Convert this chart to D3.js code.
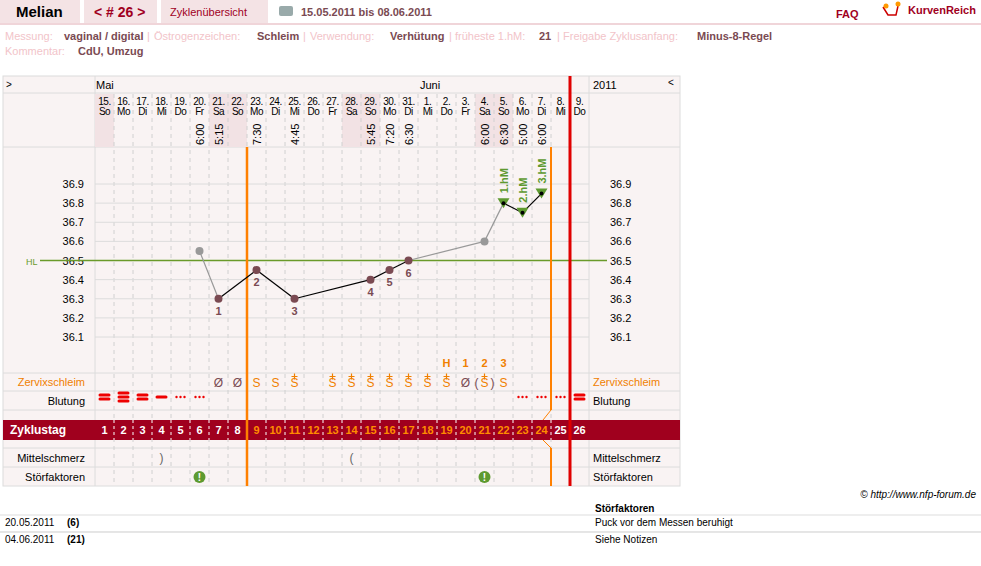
<!DOCTYPE html>
<html><head><meta charset="utf-8">
<script src="https://cdn.jsdelivr.net/npm/d3@7"></script>
<style>body{margin:0;background:#fff;font-family:Arial,"Liberation Sans",sans-serif}</style>
</head><body><div id="chart"></div>
<script>
const dates = ["15.","16.","17.","18.","19.","20.","21.","22.","23.","24.","25.","26.","27.","28.","29.","30.","31.","1.","2.","3.","4.","5.","6.","7.","8.","9."];
const weekdays = ["So","Mo","Di","Mi","Do","Fr","Sa","So","Mo","Di","Mi","Do","Fr","Sa","So","Mo","Di","Mi","Do","Fr","Sa","So","Mo","Di","Mi","Do"];
const times = [null,null,null,null,null,"6:00","5:15",null,"7:30",null,"4:45",null,null,null,"5:45","7:20","6:30",null,null,null,"6:00","6:30","5:00","6:00",null,null];
const temps = [null,null,null,null,null,36.55,36.3,null,36.45,null,36.3,null,null,null,36.4,36.45,36.5,null,null,null,36.6,36.8,36.75,36.85,null,null];
const excluded = [6, 21];
const lowCount = {7:"1",9:"2",11:"3",15:"4",16:"5",17:"6"};
const highDays = {22:"1.hM",23:"2.hM",24:"3.hM"};
const yTicks = [36.1,36.2,36.3,36.4,36.5,36.6,36.7,36.8,36.9];
const coverLine = 36.5;
const mucus = {7:"Ø",8:"Ø",9:"S",10:"S",11:"S+",13:"S+",14:"S+",15:"S+",16:"S+",17:"S+",18:"S+",19:"S+",20:"Ø",21:"(S+)",22:"S"};
const peakMarks = {19:"H",20:"1",21:"2",22:"3"};
const bleeding = {1:2,2:3,3:2,4:1,5:"d",6:"d",23:"d",24:"d",25:"d",26:2};
const pain = {4:")",14:"("};
const disturb = [6, 21];

const W = 981, H = 566;
const svg = d3.select("#chart").append("svg").attr("width", W).attr("height", H)
  .style("font-family", "Arial, 'Liberation Sans', sans-serif");

const x = d3.scaleBand().domain(d3.range(1, 27)).range([95, 589]);
const cx = d => x(d) + x.bandwidth() / 2;
const y = d3.scaleLinear().domain([36.1, 36.9]).range([337, 184]);
const bg = "#f9f3f3", grid = "#dcdcdc", dark = "#7a4a52";

// header
svg.append("line").attr("x1",0).attr("x2",W).attr("y1",24).attr("y2",24).attr("stroke","#f0d5d9").attr("stroke-width",2);
[[0,80],[84,73],[161,107]].forEach(([a,w]) => svg.append("rect").attr("x",a).attr("y",0).attr("width",w).attr("height",23).attr("fill","#f4e3e5"));
svg.append("text").attr("x",16).attr("y",17).attr("font-size",15).attr("font-weight","bold").text("Melian");
svg.append("text").attr("x",94).attr("y",17).attr("font-size",14).attr("font-weight","bold").attr("fill","#a0001e").text("< # 26 >");
svg.append("text").attr("x",170).attr("y",16).attr("font-size",11).attr("fill","#a0001e").text("Zyklenübersicht");
svg.append("rect").attr("x",279).attr("y",6).attr("width",14).attr("height",10).attr("rx",2).attr("fill","#9aa");
svg.append("text").attr("x",301).attr("y",16).attr("font-size",11).attr("fill",dark).attr("font-weight","bold").text("15.05.2011 bis 08.06.2011");
svg.append("text").attr("x",836).attr("y",18).attr("font-size",11).attr("fill","#a0001e").attr("font-weight","bold").text("FAQ");
svg.append("path").attr("d","M883,7 L888,15 L896,15 L898,6").attr("fill","none").attr("stroke","#c00").attr("stroke-width",1.5);
svg.append("circle").attr("cx",886).attr("cy",6).attr("r",2.5).attr("fill","#f90");
svg.append("circle").attr("cx",898).attr("cy",4).attr("r",2.5).attr("fill","#f90");
svg.append("text").attr("x",908).attr("y",14).attr("font-size",11).attr("fill","#a0001e").attr("font-weight","bold").text("KurvenReich");

const meta1 = [["Messung:",5,"vaginal / digital",64],["Östrogenzeichen:",154,"Schleim",257],["Verwendung:",310,"Verhütung",390],["früheste 1.hM:",455,"21",539],["Freigabe Zyklusanfang:",563,"Minus-8-Regel",697]];
meta1.forEach(([l,lx,v,vx]) => {
  svg.append("text").attr("x",lx).attr("y",40).attr("font-size",11).attr("fill","#f2c4c9").text(l);
  svg.append("text").attr("x",vx).attr("y",40).attr("font-size",11).attr("fill",dark).attr("font-weight","bold").text(v);
});
[147,303,449,557].forEach(px => svg.append("text").attr("x",px).attr("y",40).attr("font-size",11).attr("fill","#f2c4c9").text("|"));
svg.append("text").attr("x",5).attr("y",55).attr("font-size",11).attr("fill","#f2c4c9").text("Kommentar:");
svg.append("text").attr("x",78).attr("y",55).attr("font-size",11).attr("fill",dark).attr("font-weight","bold").text("CdU, Umzug");

// chart panel
svg.append("rect").attr("x",3).attr("y",76).attr("width",677).attr("height",410).attr("fill",bg).attr("stroke",grid);
[93,147,373,391,410,448,467].forEach(v => svg.append("line").attr("x1",3).attr("x2",680).attr("y1",v).attr("y2",v).attr("stroke",grid));
svg.append("line").attr("x1",95).attr("x2",95).attr("y1",76).attr("y2",486).attr("stroke",grid);
svg.append("line").attr("x1",589).attr("x2",589).attr("y1",76).attr("y2",486).attr("stroke",grid);

dates.forEach((d,i) => { if (weekdays[i]==="Sa"||weekdays[i]==="So")
  svg.append("rect").attr("x",x(i+1)).attr("y",94).attr("width",x.bandwidth()).attr("height",53).attr("fill","#f2e2e4"); });

d3.range(1,26).forEach(d => svg.append("line").attr("x1",x(d)+x.bandwidth()).attr("x2",x(d)+x.bandwidth())
  .attr("y1",94).attr("y2",486).attr("stroke","#d0d0d0").attr("stroke-dasharray","4,4"));

yTicks.forEach(t => {
  svg.append("line").attr("x1",95).attr("x2",589).attr("y1",y(t)).attr("y2",y(t)).attr("stroke",grid);
  svg.append("text").attr("x",84).attr("y",y(t)+4).attr("text-anchor","end").attr("font-size",11).text(t.toFixed(1));
  svg.append("text").attr("x",610).attr("y",y(t)+4).attr("font-size",11).text(t.toFixed(1));
});
svg.append("line").attr("x1",40).attr("x2",607).attr("y1",y(coverLine)).attr("y2",y(coverLine)).attr("stroke","#6a9a2a").attr("stroke-width",1.3);
svg.append("text").attr("x",26).attr("y",y(coverLine)+4).attr("font-size",9).attr("fill","#6a9a2a").text("HL");

svg.append("text").attr("x",6).attr("y",88).attr("font-size",10).text(">");
svg.append("text").attr("x",96).attr("y",89).attr("font-size",11).text("Mai");
svg.append("text").attr("x",420).attr("y",89).attr("font-size",11).text("Juni");
svg.append("text").attr("x",593).attr("y",89).attr("font-size",11).text("2011");
svg.append("text").attr("x",668).attr("y",86).attr("font-size",10).text("<");

dates.forEach((d,i) => {
  const g = svg.append("text").attr("text-anchor","middle").attr("font-size",10).attr("letter-spacing","-0.5");
  g.append("tspan").attr("x",cx(i+1)).attr("y",105).text(d);
  g.append("tspan").attr("x",cx(i+1)).attr("y",115).text(weekdays[i]);
  if (times[i]) svg.append("text").attr("transform",`translate(${cx(i+1)+4},${145}) rotate(-90)`).attr("font-size",11).text(times[i]);
});

const rl = [[382,"Zervixschleim","#f08000"],[401,"Blutung","#000"],[458,"Mittelschmerz","#000"],[477,"Störfaktoren","#000"]];
rl.forEach(([yy,t,c]) => {
  svg.append("text").attr("x",85).attr("y",yy+4).attr("text-anchor","end").attr("font-size",11).attr("fill",c).text(t);
  svg.append("text").attr("x",593).attr("y",yy+4).attr("font-size",11).attr("fill",c).text(t);
});

svg.append("rect").attr("x",3).attr("y",420).attr("width",677).attr("height",20).attr("fill","#a0001e");
svg.append("text").attr("x",10).attr("y",434).attr("font-size",12).attr("font-weight","bold").attr("fill","#fff").text("Zyklustag");
d3.range(1,27).forEach(d => {
  svg.append("text").attr("x",cx(d)).attr("y",434).attr("text-anchor","middle").attr("font-size",11).attr("font-weight","bold")
    .attr("fill", d>=9 && d<=24 ? "#ff8c00" : "#fff").text(d);
  if (d<26) svg.append("line").attr("x1",x(d)+x.bandwidth()).attr("x2",x(d)+x.bandwidth()).attr("y1",420).attr("y2",440)
    .attr("stroke","#fff").attr("stroke-dasharray","3,3");
});

// mucus
Object.entries(peakMarks).forEach(([d,t]) => svg.append("text").attr("x",cx(+d)).attr("y",367).attr("text-anchor","middle")
  .attr("font-size",11).attr("font-weight","bold").attr("fill","#f08000").text(t));
Object.entries(mucus).forEach(([d,t]) => {
  const base = t.replace(/[+()]/g, "");
  const c = cx(+d);
  svg.append("text").attr("x",c).attr("y",387).attr("text-anchor","middle").attr("font-size",12)
    .attr("fill", base==="Ø" ? dark : "#f08000").text(base);
  if (t.startsWith("(")) [["(",-8],[")",8]].forEach(([p,o]) =>
    svg.append("text").attr("x",c+o).attr("y",387).attr("text-anchor","middle").attr("font-size",12).attr("fill",dark).text(p));
  if (t.includes("+")) svg.append("path").attr("d",`M${c-3},376.5 H${c+3} M${c},373.5 V379.5`)
    .attr("stroke","#f08000").attr("stroke-width",1.2);
});

Object.entries(bleeding).forEach(([d,v]) => {
  if (v==="d") [-4,0,4].forEach(o => svg.append("circle").attr("cx",cx(+d)+o).attr("cy",397).attr("r",1.2).attr("fill","#e00"));
  else d3.range(v).forEach(k => svg.append("rect").attr("x",cx(+d)-6).attr("y",399-v*2+k*4-1.5).attr("width",12).attr("height",3).attr("rx",1.5).attr("fill","#e00"));
});

Object.entries(pain).forEach(([d,t]) => svg.append("text").attr("x",cx(+d)).attr("y",462).attr("text-anchor","middle").attr("font-size",12).attr("fill","#666").text(t));
disturb.forEach(d => {
  svg.append("circle").attr("cx",cx(d)).attr("cy",477).attr("r",6).attr("fill","#5e9a30");
  svg.append("text").attr("x",cx(d)).attr("y",481).attr("text-anchor","middle").attr("font-size",10).attr("font-weight","bold").attr("fill","#fff").text("!");
});

// vertical markers
const v1 = x(9), v2 = x(25), v3 = x(26);
svg.append("line").attr("x1",v1).attr("x2",v1).attr("y1",147).attr("y2",486).attr("stroke","#ff8000").attr("stroke-width",2.5);
svg.append("line").attr("x1",v2).attr("x2",v2).attr("y1",147).attr("y2",410).attr("stroke","#ff8000").attr("stroke-width",2);
svg.append("path").attr("d",`M${v2},410 L${v2-8},420`).attr("stroke","#ff8000").attr("fill","none");
svg.append("path").attr("d",`M${v2-8},440 L${v2},448`).attr("stroke","#ff8000").attr("fill","none");
svg.append("line").attr("x1",v2).attr("x2",v2).attr("y1",448).attr("y2",486).attr("stroke","#ff8000").attr("stroke-width",2);
svg.append("line").attr("x1",v3).attr("x2",v3).attr("y1",76).attr("y2",486).attr("stroke","#e00000").attr("stroke-width",3);

// temperature curve
const valid = temps.map((t,i) => t==null ? null : {d:i+1,t}).filter(p => p);
const line = d3.line().x(p => cx(p.d)).y(p => y(p.t));
for (let k=0;k<valid.length-1;k++) {
  const a = valid[k], b = valid[k+1];
  const gray = excluded.includes(a.d) || excluded.includes(b.d);
  svg.append("path").attr("d",line([a,b])).attr("stroke",gray?"#999":"#000").attr("stroke-width",1.2).attr("fill","none");
}
valid.forEach(p => {
  if (highDays[p.d]) {
    svg.append("path").attr("d",`M${cx(p.d)-6},${y(p.t)-5} L${cx(p.d)+6},${y(p.t)-5} L${cx(p.d)},${y(p.t)+5}Z`).attr("fill","#5e9a30");
    svg.append("circle").attr("cx",cx(p.d)).attr("cy",y(p.t)).attr("r",2).attr("fill","#000");
    svg.append("text").attr("transform",`translate(${cx(p.d)+4},${y(p.t)-10}) rotate(-90)`).attr("font-size",11)
      .attr("font-weight","bold").attr("fill","#5e9a30").text(highDays[p.d]);
  } else {
    svg.append("circle").attr("cx",cx(p.d)).attr("cy",y(p.t)).attr("r",4).attr("fill",excluded.includes(p.d)?"#999":"#7a4a52");
  }
  if (lowCount[p.d]) svg.append("text").attr("x",cx(p.d)).attr("y",y(p.t)+16).attr("text-anchor","middle").attr("font-size",11)
    .attr("font-weight","bold").attr("fill",dark).text(lowCount[p.d]);
});

// footer
svg.append("text").attr("x",976).attr("y",498).attr("text-anchor","end").attr("font-size",10).attr("font-style","italic").text("© http://www.nfp-forum.de");
svg.append("text").attr("x",595).attr("y",512).attr("font-size",10).attr("font-weight","bold").text("Störfaktoren");
const notes = [["20.05.2011","(6)","Puck vor dem Messen beruhigt"],["04.06.2011","(21)","Siehe Notizen"]];
notes.forEach((n,i) => {
  const yy = 526 + i*17;
  svg.append("line").attr("x1",0).attr("x2",W).attr("y1",yy-11).attr("y2",yy-11).attr("stroke","#ddd");
  svg.append("text").attr("x",5).attr("y",yy).attr("font-size",10).text(n[0]);
  svg.append("text").attr("x",67).attr("y",yy).attr("font-size",10).attr("font-weight","bold").text(n[1]);
  svg.append("text").attr("x",595).attr("y",yy).attr("font-size",10).text(n[2]);
});
svg.append("line").attr("x1",0).attr("x2",W).attr("y1",532).attr("y2",532).attr("stroke","#ddd");
</script></body></html>
